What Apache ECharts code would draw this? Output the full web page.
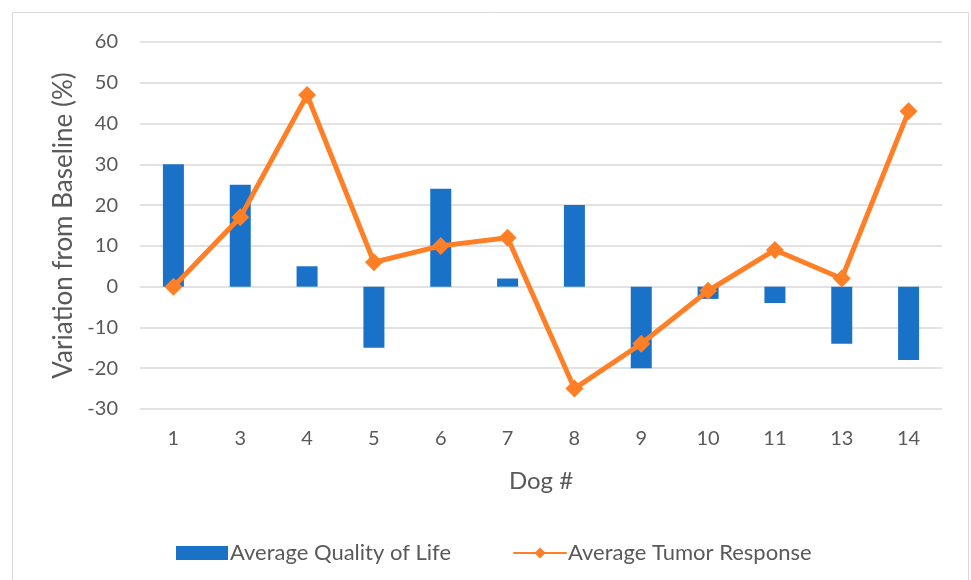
<!DOCTYPE html>
<html><head><meta charset="utf-8">
<script src="https://cdn.jsdelivr.net/npm/echarts@6/dist/echarts.min.js"></script>
<style>html,body{margin:0;padding:0;background:#fff}#c{width:971px;height:580px}</style>
</head><body><div id="c"></div>
<script>
const categories = ['1','3','4','5','6','7','8','9','10','11','13','14'];
const qualityOfLife = [30, 25, 5, -15, 24, 2, 20, -20, -3, -4, -14, -18];
const tumorResponse = [0, 17, 47, 6, 10, 12, -25, -14, -1, 9, 2, 43];
const yTicks = {min: -30, max: 60, interval: 10};

const font = 'Lato, "Open Sans", sans-serif';
const txt = '#595959';
const chart = echarts.init(document.getElementById('c'), null, {renderer: 'canvas'});
chart.setOption({
  animation: false,
  backgroundColor: '#fff',
  graphic: [{type: 'rect', shape: {x: 12.5, y: 12.5, width: 956, height: 580}, style: {fill: 'none', stroke: '#d9d9d9', lineWidth: 1}, silent: true}],
  grid: {left: 140, right: 29, top: 42, bottom: 171, containLabel: false},
  legend: {
    left: 171, top: 537, itemGap: 62, itemWidth: 52, itemHeight: 14,
    textStyle: {color: txt, fontSize: 22, fontFamily: font, padding: [0, 0, 0, -3]},
    data: [
      {name: 'Average Quality of Life', icon: 'rect'},
      {name: 'Average Tumor Response'}
    ]
  },
  xAxis: {
    type: 'category', data: categories,
    name: 'Dog #', nameLocation: 'middle', nameGap: 60,
    nameTextStyle: {color: txt, fontSize: 24, fontFamily: font},
    axisLine: {show: false, onZero: false}, axisTick: {show: false},
    axisLabel: {color: txt, fontSize: 20, fontFamily: font, margin: 20}
  },
  yAxis: {
    type: 'value', min: yTicks.min, max: yTicks.max, interval: yTicks.interval,
    name: 'Variation from Baseline (%)', nameLocation: 'middle', nameGap: 63,
    nameTextStyle: {color: txt, fontSize: 26, fontFamily: font},
    axisLine: {show: false}, axisTick: {show: false},
    axisLabel: {color: txt, fontSize: 20, fontFamily: font, margin: 22},
    splitLine: {lineStyle: {color: '#d9d9d9', width: 1.5}}
  },
  series: [
    {name: 'Average Quality of Life', type: 'bar', data: qualityOfLife, barWidth: 21,
     itemStyle: {color: '#1a72c8'}},
    {name: 'Average Tumor Response', type: 'line', data: tumorResponse,
     symbol: 'diamond', symbolSize: 18, lineStyle: {color: '#ff7f27', width: 5, cap: 'round', join: 'round'},
     itemStyle: {color: '#ff7f27'}}
  ]
});
</script></body></html>
